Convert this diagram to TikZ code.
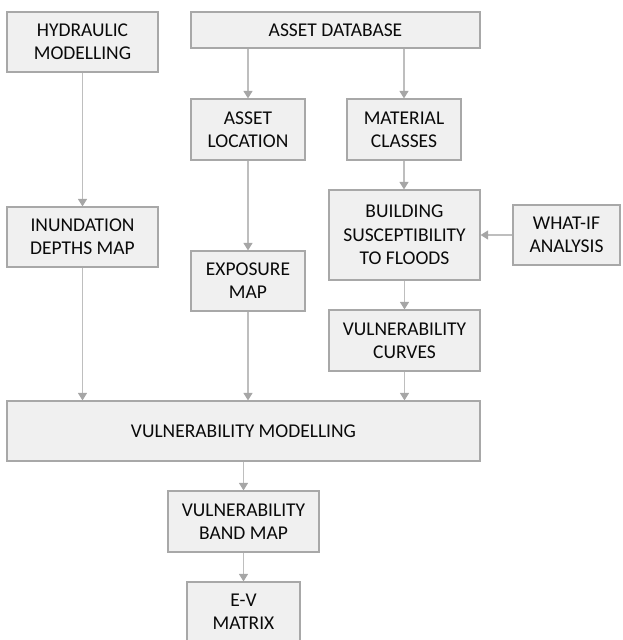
\documentclass[tikz,border=0pt]{standalone}
\usepackage{fontspec}
\setmainfont{Carlito}
\usetikzlibrary{arrows.meta}
\definecolor{boxfill}{HTML}{F0F0F0}
\definecolor{boxline}{HTML}{A8A8A8}
\definecolor{conn}{HTML}{BEBEBE}
\definecolor{tip}{HTML}{A6A6A6}
\definecolor{txt}{HTML}{0A0A0A}
\begin{document}
\begin{tikzpicture}[x=1pt,y=-1pt,
  box/.style={draw=boxline,fill=boxfill,line width=1.2pt,inner sep=0pt,
    align=center,text=txt,font=\fontsize{19.5pt}{23.3pt}\selectfont},
  conn/.style={draw=conn,line width=1.2pt,
    -{Triangle[width=9pt,length=7.5pt,fill=tip,color=tip]}}]
\useasboundingbox (0,0) rectangle (622,640);
\clip (0,0) rectangle (622,640);
\node[box,minimum width=151pt,minimum height=60pt] (hyd) at (82.5,42) {HYDRAULIC\\MODELLING};
\node[box,minimum width=289pt,minimum height=36pt] (adb) at (335.5,30) {ASSET DATABASE};
\node[box,minimum width=114pt,minimum height=61pt] (aloc) at (248,129.5) {ASSET\\LOCATION};
\node[box,minimum width=114pt,minimum height=61pt] (mat) at (404,129.5) {MATERIAL\\CLASSES};
\node[box,minimum width=151pt,minimum height=60pt] (inund) at (82.5,237) {INUNDATION\\DEPTHS MAP};
\node[box,minimum width=151pt,minimum height=90pt] (build) at (404.5,235) {BUILDING\\SUSCEPTIBILITY\\TO FLOODS};
\node[box,minimum width=107pt,minimum height=60pt] (whatif) at (566.5,235) {WHAT-IF\\ANALYSIS};
\node[box,minimum width=114pt,minimum height=60pt] (expo) at (248,281) {EXPOSURE\\MAP};
\node[box,minimum width=151pt,minimum height=61pt] (curves) at (404.5,340.5) {VULNERABILITY\\CURVES};
\node[box,minimum width=473pt,minimum height=60pt] (vm) at (243.5,431) {VULNERABILITY MODELLING};
\node[box,minimum width=151pt,minimum height=61pt] (band) at (243.5,521.5) {VULNERABILITY\\BAND MAP};
\node[box,minimum width=113pt,minimum height=60pt] (ev) at (243.5,612) {E-V\\MATRIX};
\draw[conn] (hyd.south) -- (inund.north);
\draw[conn] (adb.south -| aloc.north) -- (aloc.north);
\draw[conn] (adb.south -| mat.north) -- (mat.north);
\draw[conn] (aloc.south) -- (expo.north);
\draw[conn] (mat.south) -- (mat.south |- build.north);
\draw[conn] (whatif.west) -- (build.east);
\draw[conn] (build.south) -- (curves.north);
\draw[conn] (inund.south) -- (inund.south |- vm.north);
\draw[conn] (expo.south) -- (expo.south |- vm.north);
\draw[conn] (curves.south) -- (curves.south |- vm.north);
\draw[conn] (vm.south) -- (band.north);
\draw[conn] (band.south) -- (ev.north);
\end{tikzpicture}
\end{document}
